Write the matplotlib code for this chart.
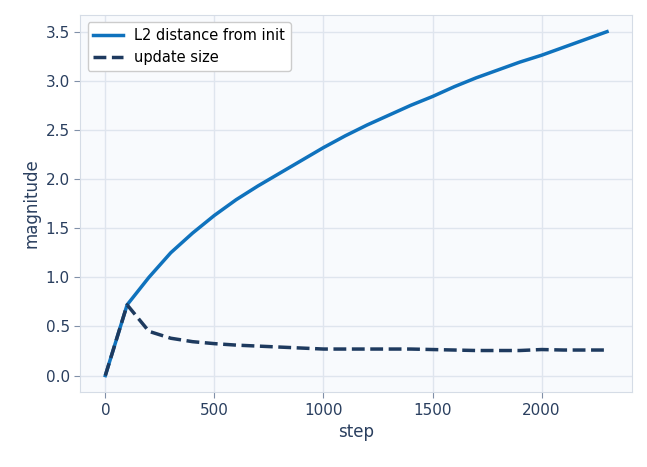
import matplotlib
matplotlib.use("Agg")
import matplotlib.pyplot as plt

steps = list(range(0, 2400, 100))
l2 = [0, 0.72, 1.0, 1.25, 1.45, 1.63, 1.79, 1.93, 2.06, 2.19, 2.32, 2.44, 2.55, 2.65,
      2.75, 2.84, 2.94, 3.03, 3.11, 3.19, 3.26, 3.34, 3.42, 3.50]
upd = [0, 0.72, 0.45, 0.38, 0.345, 0.325, 0.31, 0.30, 0.29, 0.28, 0.27, 0.27, 0.27, 0.27,
       0.27, 0.265, 0.26, 0.255, 0.255, 0.255, 0.265, 0.26, 0.26, 0.26]

txt = "#2a3f5f"
fig = plt.figure(figsize=(6.47, 4.67), dpi=100)
ax = fig.add_axes([0.124, 0.16, 0.853, 0.808])
ax.set_facecolor("#f8fafd")
ax.grid(True, color="#dfe5ee", linewidth=1)
ax.set_axisbelow(True)
ax.plot(steps, l2, color="#0f72bd", lw=2.5, label="L2 distance from init")
ax.plot(steps, upd, color="#1e3a5f", lw=2.5, ls="--", label="update size")
for s in ax.spines.values():
    s.set_color("#d5dce6")
ax.tick_params(colors=txt, labelsize=11, length=4, color="#8090a8")
ax.set_xlabel("step", color=txt, fontsize=12)
ax.set_ylabel("magnitude", color=txt, fontsize=12)
ax.set_xticks([0, 500, 1000, 1500, 2000])
ax.set_yticks([0, 0.5, 1.0, 1.5, 2.0, 2.5, 3.0, 3.5])
ax.set_xlim(-115, 2415)
ax.set_ylim(-0.17, 3.67)
leg = ax.legend(loc="upper left", fontsize=10.5, framealpha=1, edgecolor="#cccccc", fancybox=True)
fig.savefig("out.png", dpi=100)
